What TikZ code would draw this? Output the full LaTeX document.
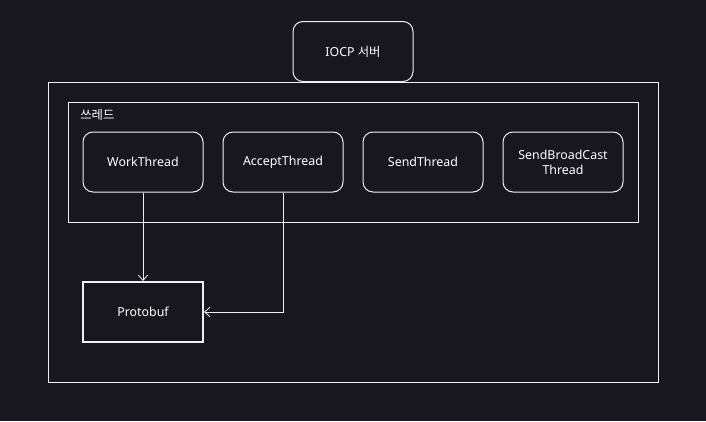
\documentclass[tikz,border=0pt]{standalone}
\usepackage{fontspec}
\setmainfont{Noto Sans}
\newfontfamily\kr{Noto Sans CJK KR}
\usetikzlibrary{arrows.meta}
\definecolor{bg}{HTML}{18161E}
\definecolor{ln}{HTML}{F0F0F0}
\begin{document}
\begin{tikzpicture}[x=0.75pt,y=-0.75pt,
  rbox/.style={draw=ln,line width=0.75pt,rounded corners=7.5pt,fill=bg,minimum width=90pt,minimum height=45pt,inner sep=0pt,text=white,font=\fontsize{9.3}{11.3}\selectfont,align=center},
  frame/.style={draw=ln,line width=0.75pt},
  conn/.style={draw=ln,line width=0.6pt,-{Straight Barb[length=4pt,width=7pt]}}]
\fill[bg] (0,0) rectangle (706,421);
\useasboundingbox (0,0) rectangle (706,421);
\node[rbox] (iocp) at (353,51.5) {IOCP {\kr 서버}};
\draw[frame] (48,82) rectangle (658,382);
\draw[frame] (68,102) rectangle (638,222);
\node[anchor=west,text=white,font=\kr\fontsize{9.3}{11}\selectfont,inner sep=0pt] (lbl) at (80,114.5) {쓰레드};
\node[rbox] (work) at (143,162) {WorkThread};
\node[rbox] (accept) at (283,162) {AcceptThread};
\node[rbox] (send) at (423,162) {SendThread};
\node[rbox] (bcast) at (563,162) {SendBroadCast\\Thread};
\node[draw=ln,line width=1.5pt,fill=bg,minimum width=90pt,minimum height=45pt,inner sep=0pt,text=white,font=\fontsize{9.3}{11.3}\selectfont] (proto) at (143,312) {Protobuf};
\draw[conn] (work.south) -- (proto.north);
\draw[conn] (accept.south) |- (proto.east);
\end{tikzpicture}
\end{document}
